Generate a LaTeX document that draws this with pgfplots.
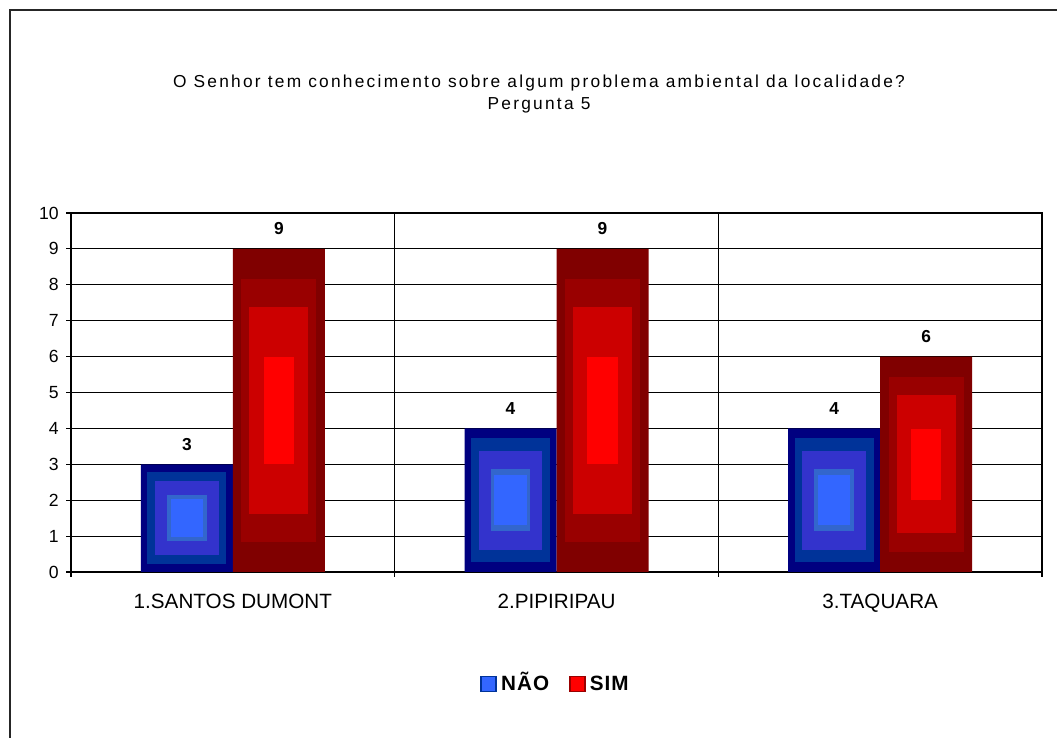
\documentclass[border=0pt]{standalone}
\usepackage{pgfplots}
\pgfplotsset{compat=1.18}
\usepackage{pgfplotstable}
\usepackage{fontspec}
\setmainfont{Liberation Sans}
\newfontfamily\titlefont[LetterSpace=13]{Liberation Sans}
\newfontfamily\legendfont[LetterSpace=5]{Liberation Sans}
\definecolor{b1}{HTML}{000080}
\definecolor{b2}{HTML}{003399}
\definecolor{b3}{HTML}{3333CC}
\definecolor{b4}{HTML}{3366CC}
\definecolor{b5}{HTML}{3366FF}
\definecolor{r1}{HTML}{800000}
\definecolor{r2}{HTML}{990000}
\definecolor{r3}{HTML}{CC0000}
\definecolor{r4}{HTML}{FF0000}
\pgfplotstableread{
x nao sim
0 3 9
1 4 9
2 4 6
}\data
\pgfplotsset{
  layer/.style n args={3}{forget plot, draw=none, mark=none,
    error bars/.cd, y dir=both, y explicit, error mark=none,
    error bar style={line width=#1, draw=#2, line cap=butt}},
}
\begin{document}
\begin{tikzpicture}
\useasboundingbox (0,0) rectangle (792.75pt,553.5pt);
\draw[line width=1.5pt, black!85] (7.5pt,0) -- (7.5pt,546pt) -- (792.75pt,546pt);
\node[anchor=base, font=\titlefont\fontsize{13}{14}\selectfont] at (404.25pt,487.5pt) {O Senhor tem conhecimento sobre algum problema ambiental da localidade?};
\node[anchor=base, font=\titlefont\fontsize{13}{14}\selectfont] at (404.25pt,471pt) {Pergunta 5};
\begin{axis}[
  at={(53.25pt,124.5pt)}, anchor=south west,
  scale only axis, width=728.25pt, height=269.25pt,
  xmin=-0.5, xmax=2.5, ymin=0, ymax=10,
  ytick={0,1,...,10},
  xtick={0,1,2},
  xticklabels={1.SANTOS DUMONT, 2.PIPIRIPAU, 3.TAQUARA},
  minor xtick={-0.5,0.5,1.5,2.5},
  xminorgrids=true, ymajorgrids=true,
  grid style={black, line width=0.8pt},
  minor grid style={black, line width=0.8pt},
  axis line style={black, line width=0.8pt},
  tick style={black, line width=0.8pt},
  major x tick style={draw=none},
  tick align=outside,
  ytick pos=left, xtick pos=bottom,
  major tick length=3.75pt, minor tick length=3.75pt,
  /pgf/number format/assume math mode=true,
  yticklabel style={font=\fontsize{13.2}{14}\selectfont, xshift=-2pt},
  xticklabel style={font=\fontsize{15.5}{16}\selectfont, yshift=-9pt},
  legend style={at={(0.5,-0.312)}, anchor=center, draw=none,
    font=\legendfont\bfseries\fontsize{15.5}{16}\selectfont,
    nodes={text height=11pt, text depth=1pt, inner xsep=3pt},
    /tikz/every even column/.append style={column sep=12pt}},
  legend columns=2,
  nodes near coords style={font=\bfseries\fontsize{13}{14}\selectfont, anchor=base, yshift=10.5pt},
]
\addplot[ybar, bar width=69pt, bar shift=-34.5pt, fill=b1, draw=none, nodes near coords,
  every node near coord/.append style={xshift=-34.5pt},
  legend image code/.code={\draw[draw=b2, fill=b5, line width=1.3pt] (0pt,-5.6pt) rectangle (11.2pt,5.6pt);}]
  table[x=x, y=nao]{\data};
\addlegendentry{NÃO}
\addplot[layer={59.3pt}{b2}] table[x expr=\thisrow{x}-0.14212, y expr=\thisrow{nao}/2, y error expr=\thisrow{nao}*0.43]{\data};
\addplot[layer={47.6pt}{b3}] table[x expr=\thisrow{x}-0.14212, y expr=\thisrow{nao}/2, y error expr=\thisrow{nao}*0.345]{\data};
\addplot[layer={29.7pt}{b4}] table[x expr=\thisrow{x}-0.14212, y expr=\thisrow{nao}/2, y error expr=\thisrow{nao}*0.215]{\data};
\addplot[layer={24.2pt}{b5}] table[x expr=\thisrow{x}-0.14212, y expr=\thisrow{nao}/2, y error expr=\thisrow{nao}*0.175]{\data};
\addplot[ybar, bar width=69pt, bar shift=34.5pt, fill=r1, draw=none, nodes near coords,
  every node near coord/.append style={xshift=34.5pt},
  legend image code/.code={\draw[draw=r2, fill=r4, line width=1.3pt] (0pt,-5.6pt) rectangle (11.2pt,5.6pt);}]
  table[x=x, y=sim]{\data};
\addlegendentry{SIM}
\addplot[layer={56.2pt}{r2}] table[x expr=\thisrow{x}+0.14212, y expr=\thisrow{sim}/2, y error expr=\thisrow{sim}*0.4075]{\data};
\addplot[layer={44.2pt}{r3}] table[x expr=\thisrow{x}+0.14212, y expr=\thisrow{sim}/2, y error expr=\thisrow{sim}*0.32]{\data};
\addplot[layer={22.8pt}{r4}] table[x expr=\thisrow{x}+0.14212, y expr=\thisrow{sim}/2, y error expr=\thisrow{sim}*0.165]{\data};
\end{axis}
\end{tikzpicture}
\end{document}
